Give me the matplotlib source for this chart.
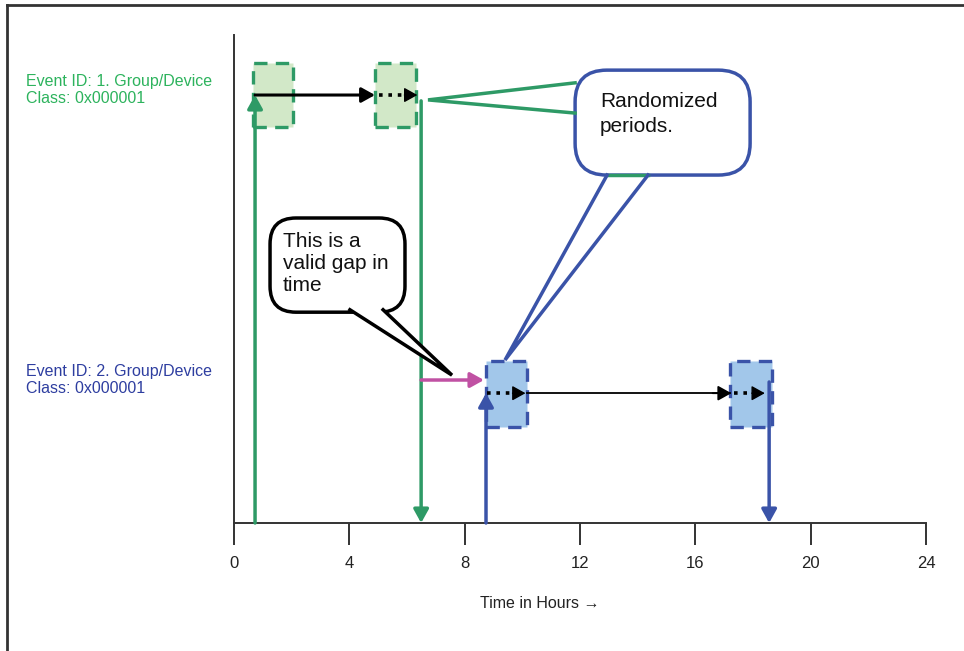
import matplotlib
matplotlib.use("Agg")
import matplotlib.pyplot as plt
from matplotlib.lines import Line2D
from matplotlib.patches import FancyBboxPatch, Polygon, Rectangle

plt.rcParams["font.family"] = ["Liberation Sans", "DejaVu Sans"]

# ------------------------------------------------------------------
# Data (hours on x, relative height on y)
# ------------------------------------------------------------------
hour_ticks = [0, 4, 8, 12, 16, 20, 24]

event_labels = ["Event ID: 1. Group/Device\nClass: 0x000001",
                "Event ID: 2. Group/Device\nClass: 0x000001"]
event_levels = [0.877, 0.266]          # level of each event row
event_box_ranges = [(0.811, 0.943), (0.197, 0.332)]  # randomized box bottom/top

# randomized periods (start, end) per event
event1_periods = [(0.66, 2.05), (4.89, 6.31)]
event2_periods = [(8.74, 10.16), (17.20, 18.66)]

event1_start, event1_end = 0.73, 6.49
event2_start, event2_end = 8.74, 18.56
event1_end_top = 0.865
event2_end_top = 0.289

gap_level = 0.293                      # magenta "gap" arrow height

green = "#2e9a66"
green_fill = "#d2e8c8"
green_text = "#2db35d"
blue = "#3a53a8"
blue_fill = "#a2c7ea"
blue_text = "#2e3ea0"
magenta = "#c051a3"

fig = plt.figure(figsize=(9.64, 6.51), dpi=100)
ax = fig.add_axes([234 / 964, 128 / 651, 692 / 964, 488 / 651])
ax.set_xlim(0, 24)
ax.set_ylim(0, 1)

for side in ("top", "right"):
    ax.spines[side].set_visible(False)
for side in ("left", "bottom"):
    ax.spines[side].set_color("#333333")
    ax.spines[side].set_linewidth(1.4)
ax.set_yticks([])
ax.set_xticks(hour_ticks)
ax.tick_params(axis="x", direction="out", length=16, width=1.4,
               color="#333333", pad=8, labelsize=12, labelcolor="#222222")
for lab in ax.get_xticklabels():
    lab.set_family(["Liberation Sans Narrow", "Liberation Sans"])
ax.set_xlabel("Time in Hours \u2192", fontsize=11.5, color="#222222",
              family=["Liberation Sans Narrow", "Liberation Sans", "DejaVu Sans"])
ax.xaxis.set_label_coords((540 - 234) / 692, -(604 - 523) / 488)
ax.xaxis.label.set_va("center")

# aspect factor to keep rounded corners round in data units
px_x = 692 / 24
px_y = 488 / 1
aspect = px_x / px_y


def arrow(x0, y0, x1, y1, color, lw, scale=18, z=5):
    ax.annotate("", xy=(x1, y1), xytext=(x0, y0),
                arrowprops=dict(arrowstyle="-|>,head_length=0.45,head_width=0.25",
                                color=color, lw=lw,
                                shrinkA=0, shrinkB=0, mutation_scale=scale),
                zorder=z, annotation_clip=False)


def dotted_arrow(x0, x1, y, head=0.4):
    ax.plot([x0, x1 - head], [y, y], color="black", lw=2.6,
            linestyle=(0, (1, 1.6)), zorder=5)
    arrow(x1 - head - 0.05, y, x1, y, "black", 1.0)


def period_boxes(periods, box_range, fill, edge):
    for x0, x1 in periods:
        ax.add_patch(Rectangle((x0, box_range[0]), x1 - x0, box_range[1] - box_range[0],
                               facecolor=fill, edgecolor=edge, lw=2.4,
                               linestyle=(0, (4, 2.5)), zorder=2))


period_boxes(event1_periods, event_box_ranges[0], green_fill, green)
period_boxes(event2_periods, event_box_ranges[1], blue_fill, blue)

# event 1 arrows
lvl1 = event_levels[0]
arrow(event1_start, 0, event1_start, lvl1, green, 2.5)
arrow(event1_start, lvl1, event1_periods[1][0], lvl1, "black", 2.2)
dotted_arrow(event1_periods[1][0] + 0.15, event1_periods[1][1] + 0.05, lvl1)
arrow(event1_end, event1_end_top, event1_end, 0, green, 2.5)

# event 2 arrows
lvl2 = event_levels[1]
arrow(event2_start, 0, event2_start, lvl2, blue, 2.5)
dotted_arrow(event2_start + 0.05, event2_periods[0][1] - 0.05, lvl2)
ax.plot([event2_periods[0][1], event2_periods[1][0]], [lvl2, lvl2],
        color="black", lw=1.3, zorder=4)
arrow(event2_periods[1][0] - 0.6, lvl2, event2_periods[1][0] + 0.05, lvl2, "black", 1.3)
dotted_arrow(event2_periods[1][0] + 0.15, event2_end - 0.15, lvl2)
arrow(event2_end, event2_end_top, event2_end, 0, blue, 2.5)

# gap arrow
arrow(event1_end, gap_level, event2_start - 0.07, gap_level, magenta, 2.5)


def callout(x0, x1, y0, y1, edge, rounding):
    ax.add_patch(FancyBboxPatch((x0, y0), x1 - x0, y1 - y0,
                                boxstyle=f"round,pad=0,rounding_size={rounding}",
                                mutation_aspect=aspect, facecolor="white",
                                edgecolor=edge, lw=2.5, zorder=6,
                                clip_on=False))


def tail(base_a, base_b, tip, color, z=7, cover=True):
    if cover:
        ax.add_patch(Polygon([base_a, base_b, tip], closed=True, facecolor="white",
                             edgecolor="none", zorder=z, clip_on=False))
    ax.plot([base_a[0], tip[0], base_b[0]], [base_a[1], tip[1], base_b[1]],
            color=color, lw=2.5, zorder=z + 0.1, solid_joinstyle="miter",
            clip_on=False)


# "valid gap" callout
callout(1.25, 5.93, 0.432, 0.625, "black", 0.9)
tail((4.02, 0.437), (5.17, 0.437), (7.56, 0.303), "black")
ax.text(1.70, 0.597, "This is a\nvalid gap in\ntime", fontsize=15, va="top",
        ha="left", linespacing=1.2, color="#111111", zorder=9)

# "randomized periods" callout
callout(11.83, 17.90, 0.713, 0.928, blue, 1.1)
tail((11.83, 0.902), (11.83, 0.840), (6.73, 0.867), green, cover=False)
ax.plot([12.94, 14.36], [0.713, 0.713], color=green, lw=2.5, zorder=7)
tail((12.94, 0.713), (14.36, 0.713), (9.40, 0.334), blue, cover=False)
ax.text(12.69, 0.883, "Randomized\nperiods.", fontsize=15, va="top",
        ha="left", linespacing=1.4, color="#111111", zorder=9)

# event labels on the left
for label, lvl, col in zip(event_labels, [90, 380], [green_text, blue_text]):
    fig.text(26 / 964, 1 - lvl / 651, label, fontsize=11.5, color=col,
             va="center", ha="left", linespacing=1.1)

# page frame
fig.add_artist(Line2D([7 / 964, 1], [1 - 5 / 651, 1 - 5 / 651],
                      transform=fig.transFigure, color="#333333", lw=2))
fig.add_artist(Line2D([7 / 964, 7 / 964], [0, 1 - 5 / 651],
                      transform=fig.transFigure, color="#333333", lw=2))

fig.savefig("out.png", dpi=100)
